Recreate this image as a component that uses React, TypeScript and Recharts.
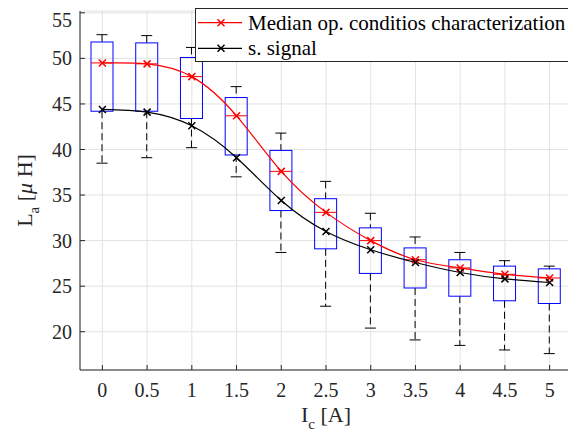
import {
  Bar,
  CartesianGrid,
  ComposedChart,
  Label,
  Legend,
  Line,
  XAxis,
  YAxis,
} from "recharts";

const currents = ["0", "0.5", "1", "1.5", "2", "2.5", "3", "3.5", "4", "4.5", "5"];
const whiskerLow = [38.5, 39.1, 40.2, 37.0, 28.7, 22.8, 20.4, 19.1, 18.5, 18.0, 17.6];
const quartile1 = [44.2, 44.2, 43.4, 39.4, 33.3, 29.1, 26.4, 24.8, 23.9, 23.4, 23.1];
const medianOp = [49.5, 49.4, 48.0, 43.7, 37.6, 33.1, 30.0, 27.9, 27.0, 26.3, 25.9];
const quartile3 = [51.8, 51.7, 50.1, 45.7, 39.9, 34.6, 31.4, 29.2, 27.9, 27.2, 26.9];
const whiskerHigh = [52.6, 52.5, 51.2, 46.9, 41.8, 36.5, 33.0, 30.4, 28.7, 27.8, 27.2];
const sSignal = [44.4, 44.1, 42.6, 39.1, 34.4, 31.0, 29.0, 27.6, 26.5, 25.8, 25.4];
const yTicks = [20, 25, 30, 35, 40, 45, 50, 55];

const data = currents.map((c, i) => ({
  current: c,
  lo: whiskerLow[i],
  q1: quartile1[i],
  med: medianOp[i],
  q3: quartile3[i],
  hi: whiskerHigh[i],
  sig: sSignal[i],
}));

const FONT = "'Liberation Serif', 'Times New Roman', serif";
const AXIS = "#262626";

// box + whiskers, positioned from the range bar [lo, hi] the library lays out
const BoxShape = (props: any) => {
  const { x, y, width, height, payload } = props;
  const { lo, q1, med, q3, hi } = payload;
  const py = (v: number) => y + ((hi - v) / (hi - lo)) * height;
  const cx = x + width / 2;
  const cap = width / 4;
  return (
    <g>
      <line x1={cx} x2={cx} y1={py(hi)} y2={py(q3)} stroke="#000" strokeDasharray="7 4" />
      <line x1={cx} x2={cx} y1={py(q1)} y2={py(lo)} stroke="#000" strokeDasharray="7 4" />
      <line x1={cx - cap} x2={cx + cap} y1={py(hi)} y2={py(hi)} stroke="#000" />
      <line x1={cx - cap} x2={cx + cap} y1={py(lo)} y2={py(lo)} stroke="#000" />
      <rect x={x} y={py(q3)} width={width} height={py(q1) - py(q3)} fill="none" stroke="#0000ff" />
      <line x1={x} x2={x + width} y1={py(med)} y2={py(med)} stroke="#ff0000" />
    </g>
  );
};

const XMark = ({ cx, cy, color }: any) => {
  const s = 3.5;
  return (
    <path
      d={`M${cx - s},${cy - s}L${cx + s},${cy + s}M${cx - s},${cy + s}L${cx + s},${cy - s}`}
      stroke={color}
      strokeWidth={1.5}
      fill="none"
    />
  );
};

const LegendBox = ({ payload }: any) => (
  <svg width={377} height={54} style={{ display: "block" }}>
    <rect x={0.5} y={0.5} width={376} height={53} fill="#fff" stroke={AXIS} />
    {(payload ?? []).map((p: any, i: number) => {
      const cy = 14.7 + i * 25.6;
      return (
        <g key={p.value}>
          <line x1={3} x2={47} y1={cy} y2={cy} stroke={p.color} strokeWidth={1.2} />
          <XMark cx={26} cy={cy} color={p.color} />
          <text x={53} y={cy} dy="0.33em" fontFamily={FONT} fontSize={21} fill="#000">
            {p.value}
          </text>
        </g>
      );
    })}
  </svg>
);

const XTitle = ({ viewBox }: any) => {
  const cx = viewBox.x + viewBox.width / 2;
  return (
    <text x={cx} y={viewBox.y + 52} textAnchor="middle" fontFamily={FONT} fontSize={22} fill={AXIS}>
      <tspan>I</tspan>
      <tspan dy={7} fontSize={15}>c</tspan>
      <tspan dy={-7}> [A]</tspan>
    </text>
  );
};

const YTitle = ({ viewBox }: any) => {
  const cx = viewBox.x + 24;
  const cy = viewBox.y + viewBox.height / 2;
  return (
    <text
      x={cx}
      y={cy}
      transform={`rotate(-90, ${cx}, ${cy})`}
      textAnchor="middle"
      fontFamily={FONT}
      fontSize={22}
      fill={AXIS}
    >
      <tspan>L</tspan>
      <tspan dy={7} fontSize={15}>a</tspan>
      <tspan dy={-7}> [</tspan>
      <tspan fontStyle="italic">μ</tspan>
      <tspan> H]</tspan>
    </text>
  );
};

const tickStyle = { fontFamily: FONT, fontSize: 20, fill: AXIS };

export default function App() {
  return (
    <ComposedChart
      width={568}
      height={430}
      data={data}
      margin={{ top: 3, right: 4, left: 0, bottom: 0 }}
      style={{ fontFamily: FONT }}
    >
      <CartesianGrid stroke="#e2e2e2" />
      <XAxis
        dataKey="current"
        height={68}
        interval={0}
        tick={tickStyle}
        tickSize={-5}
        tickMargin={18}
        stroke={AXIS}
      >
        <Label content={XTitle} />
      </XAxis>
      <XAxis
        xAxisId="top"
        dataKey="current"
        orientation="top"
        height={0}
        tick={false}
        tickSize={-5}
        stroke={AXIS}
      />
      <YAxis
        domain={[15.8, 55.2]}
        ticks={yTicks}
        allowDataOverflow
        width={72}
        tick={tickStyle}
        tickSize={-5}
        tickMargin={13}
        stroke={AXIS}
      >
        <Label content={YTitle} />
      </YAxis>
      <YAxis
        yAxisId="right"
        orientation="right"
        domain={[15.8, 55.2]}
        ticks={yTicks}
        allowDataOverflow
        width={0}
        tick={false}
        tickSize={-5}
        stroke={AXIS}
      />
      <Bar
        dataKey={(d: any) => [d.lo, d.hi]}
        barSize={22}
        shape={BoxShape}
        legendType="none"
        isAnimationActive={false}
      />
      <Line
        type="natural"
        dataKey="med"
        name="Median op. conditios characterization"
        stroke="#ff0000"
        strokeWidth={1.2}
        dot={(p: any) => <XMark key={`r${p.index}`} cx={p.cx} cy={p.cy} color="#ff0000" />}
        activeDot={false}
        isAnimationActive={false}
      />
      <Line
        type="natural"
        dataKey="sig"
        name="s. signal"
        stroke="#000000"
        strokeWidth={1.2}
        dot={(p: any) => <XMark key={`k${p.index}`} cx={p.cx} cy={p.cy} color="#000000" />}
        activeDot={false}
        isAnimationActive={false}
      />
      <Legend
        content={LegendBox}
        layout="horizontal"
        verticalAlign="middle"
        align="center"
        wrapperStyle={{ position: "absolute", left: 187, top: 0, width: 377, height: 54 }}
      />
    </ComposedChart>
  );
}
